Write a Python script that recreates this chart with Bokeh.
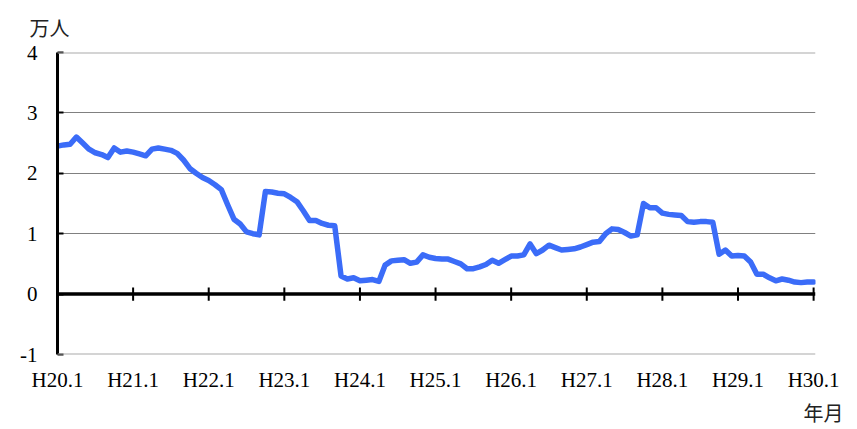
from bokeh.plotting import figure
from bokeh.models import FixedTicker, Span, Title
from bokeh.embed import file_html
from bokeh.resources import INLINE

# Monthly values (万人), H20.1 .. H30.1
h20 = [2.45, 2.47, 2.48, 2.60, 2.50, 2.40, 2.34, 2.31, 2.26, 2.42, 2.35, 2.37]
h21 = [2.35, 2.32, 2.29, 2.40, 2.42, 2.40, 2.38, 2.33, 2.22, 2.08, 2.00, 1.93]
h22 = [1.88, 1.81, 1.73, 1.48, 1.24, 1.16, 1.03, 1.00, 0.98, 1.70, 1.69, 1.67]
h23 = [1.66, 1.60, 1.53, 1.38, 1.22, 1.22, 1.17, 1.14, 1.13, 0.30, 0.25, 0.27]
h24 = [0.22, 0.23, 0.24, 0.21, 0.48, 0.55, 0.56, 0.57, 0.51, 0.53, 0.65, 0.61]
h25 = [0.59, 0.58, 0.58, 0.54, 0.50, 0.42, 0.42, 0.45, 0.49, 0.56, 0.51, 0.57]
h26 = [0.63, 0.63, 0.65, 0.83, 0.67, 0.73, 0.81, 0.77, 0.73, 0.74, 0.75, 0.78]
h27 = [0.82, 0.86, 0.87, 1.00, 1.08, 1.07, 1.02, 0.96, 0.98, 1.50, 1.43, 1.43]
h28 = [1.34, 1.32, 1.31, 1.30, 1.20, 1.19, 1.20, 1.20, 1.19, 0.66, 0.73, 0.63]
h29 = [0.64, 0.63, 0.53, 0.33, 0.33, 0.27, 0.22, 0.25, 0.23, 0.20, 0.19, 0.20]
h30 = [0.20]

values = h20 + h21 + h22 + h23 + h24 + h25 + h26 + h27 + h28 + h29 + h30
months = list(range(len(values)))

year_ticks = [0, 12, 24, 36, 48, 60, 72, 84, 96, 108, 120]
year_labels = ["H20.1", "H21.1", "H22.1", "H23.1", "H24.1", "H25.1",
               "H26.1", "H27.1", "H28.1", "H29.1", "H30.1"]
y_ticks = [-1, 0, 1, 2, 3, 4]
y_labels = ["-1", "0", "1", "2", "3", "4"]
y_unit = "万人"
x_unit = "年月"

SERIF = "Liberation Serif"
CJK = "Noto Sans CJK JP"

p = figure(width=849, height=428, output_backend="svg", toolbar_location=None,
           x_range=(0, 120.3), y_range=(-1, 4),
           min_border_left=57, min_border_right=34,
           min_border_top=52, min_border_bottom=60)
p.outline_line_color = None
p.background_fill_color = "white"
p.border_fill_color = "white"

# unit titles
p.title = None
p.add_layout(Title(text=y_unit, align="left", offset=-28, standoff=20,
                   vertical_align="middle",
                   text_font=CJK, text_font_size="20px", text_font_style="normal",
                   text_color="#222222"), "above")
p.add_layout(Title(text=x_unit, align="right", offset=-28, standoff=3,
                   text_font=CJK, text_font_size="20px", text_font_style="normal",
                   text_color="#222222"), "below")

# x axis (labels only, at bottom)
p.xaxis.ticker = FixedTicker(ticks=year_ticks)
p.xaxis.major_label_overrides = {t: l for t, l in zip(year_ticks, year_labels)}
p.xaxis.axis_line_color = None
p.xaxis.major_tick_line_color = None
p.xaxis.minor_tick_line_color = None
p.xaxis.major_tick_out = 0
p.xaxis.major_tick_in = 0
p.xaxis.major_label_standoff = 13
p.xaxis.major_label_text_font = SERIF
p.xaxis.major_label_text_font_size = "21px"
p.xaxis.major_label_text_color = "black"

# y axis
p.yaxis.ticker = FixedTicker(ticks=y_ticks)
p.yaxis.major_label_overrides = {t: l for t, l in zip(y_ticks, y_labels)}
p.yaxis.axis_line_width = 3
p.yaxis.axis_line_color = "black"
p.yaxis.major_tick_in = 6
p.yaxis.major_tick_out = 0
p.yaxis.major_tick_line_width = 2
p.yaxis.major_tick_line_color = "black"
p.yaxis.minor_tick_line_color = None
p.yaxis.major_label_standoff = 20
p.yaxis.major_label_text_font = SERIF
p.yaxis.major_label_text_font_size = "21px"
p.yaxis.major_label_text_color = "black"

# grid
p.xgrid.grid_line_color = None
p.ygrid.ticker = FixedTicker(ticks=[1, 2, 3])
p.ygrid.grid_line_color = "#808080"
p.ygrid.grid_line_width = 1.2
for loc in (y_ticks[0], y_ticks[-1]):
    p.add_layout(Span(location=loc, dimension="width", line_color="#aaaaaa", line_width=2))

# data line
p.line(months, values, line_width=5.5, line_color="#3b6cf8", line_join="round", line_cap="round")

# zero axis with year ticks
p.add_layout(Span(location=0, dimension="width", line_color="black", line_width=3.5))
p.segment(x0=year_ticks[1:], y0=[-0.11] * 10, x1=year_ticks[1:], y1=[0.11] * 10,
          line_color="black", line_width=2)

open("out.html", "w").write(file_html(p, INLINE))
